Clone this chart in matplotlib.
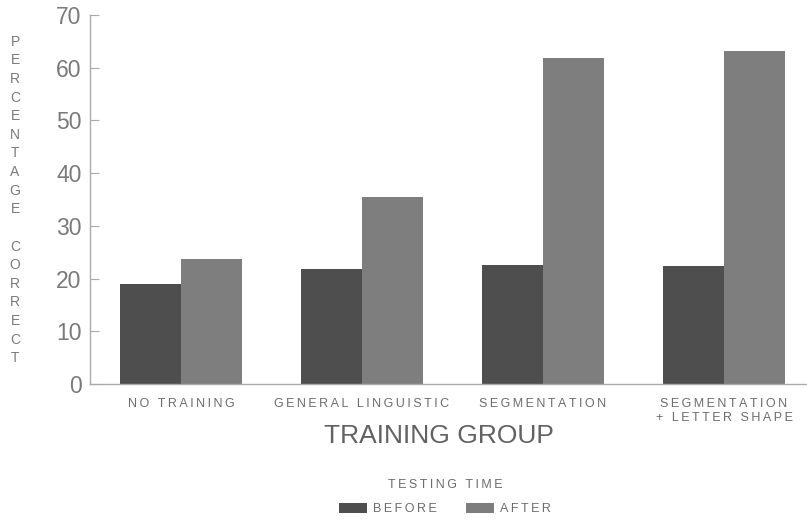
import matplotlib
matplotlib.use("Agg")
import matplotlib.pyplot as plt
import numpy as np

plt.rcParams['font.family'] = ['Liberation Sans', 'DejaVu Sans']

groups = ["NO TRAINING", "GENERAL LINGUISTIC", "SEGMENTATION", "SEGMENTATION\n+ LETTER SHAPE"]
before = [18.9, 21.9, 22.5, 22.3]
after = [23.8, 35.4, 61.8, 63.1]
series_labels = ["BEFORE", "AFTER"]
yticks = [0, 10, 20, 30, 40, 50, 60, 70]
ylabel_text = "PERCENTAGE CORRECT"
xlabel_text = "TRAINING GROUP"
legend_title = "TESTING TIME"

C_BEFORE = "#4e4e4e"
C_AFTER = "#7e7e7e"
TXT = "#6c6c6c"

TS = "\u2009"


def spaced(s):
    lines = []
    for line in s.split("\n"):
        words = line.split(" ")
        lines.append((TS + " " + TS).join(TS.join(w) for w in words))
    return "\n".join(lines)


W, H = 807, 521
fig = plt.figure(figsize=(W / 100, H / 100), dpi=100)
ax = fig.add_axes([90 / W, 1 - 384 / H, (W - 90) / W, (384 - 15) / H])

x = np.arange(len(groups))
bw = 0.337
b1 = ax.bar(x - bw / 2, before, bw, color=C_BEFORE, label=spaced(series_labels[0]))
b2 = ax.bar(x + bw / 2, after, bw, color=C_AFTER, label=spaced(series_labels[1]))

ax.set_ylim(0, 70)
ax.set_xlim(-(181 - 90) / 181, (W - 181) / 181)
ax.set_yticks(yticks)
ax.set_yticklabels([str(v) for v in yticks], fontsize=16.5, color="#7a7a7a")
ax.set_xticks(x)
ax.set_xticklabels([spaced(g) for g in groups], fontsize=9, color=TXT, linespacing=1.25, va='top')

for s in ['top', 'right']:
    ax.spines[s].set_visible(False)
for s in ['left', 'bottom']:
    ax.spines[s].set_color('#aaaaaa')
    ax.spines[s].set_linewidth(1.0)
ax.tick_params(axis='y', direction='in', length=6.5, color='#aaaaaa', pad=6)
ax.tick_params(axis='x', length=0, pad=10)

ax.set_xlabel(xlabel_text, fontsize=19, color="#626262", va='center')
ax.xaxis.set_label_coords((439 - 90) / (W - 90), (384 - 436) / (384 - 15))

ylab = "\n".join(" " if c == " " else c for c in ylabel_text)
ax.set_ylabel(ylab, fontsize=10, color="#7a7a7a", rotation=0, ha='center', va='center', linespacing=1.42)
ax.yaxis.set_label_coords((15 - 90) / (W - 90), (384 - 200) / (384 - 15))

leg = fig.legend(handles=[b1, b2], ncol=2, frameon=False, loc='center',
                 bbox_to_anchor=(445 / W, 1 - 497 / H), fontsize=9,
                 title=spaced(legend_title), title_fontsize=9,
                 handlelength=2.24, handleheight=0.9, handletextpad=0.45,
                 columnspacing=2.4, labelspacing=0.95, labelcolor=TXT)
leg.get_title().set_color(TXT)

fig.savefig("out.png", dpi=100)
